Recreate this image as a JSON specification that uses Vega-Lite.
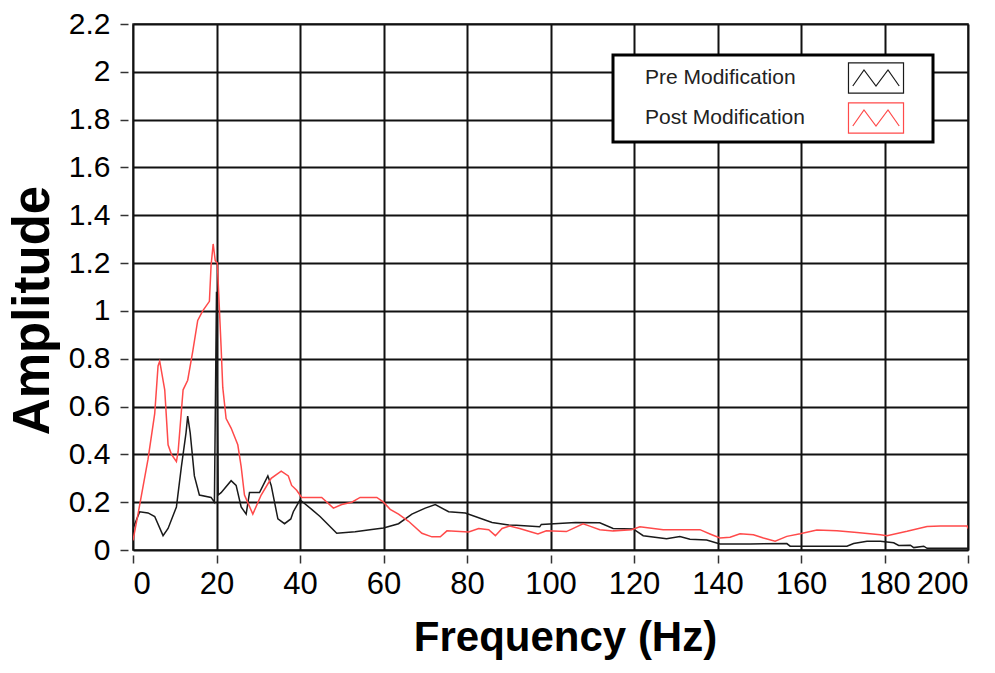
{
  "$schema": "https://vega.github.io/schema/vega-lite/v6.json",
  "autosize": "none",
  "width": 835,
  "height": 526,
  "padding": {"left": 133, "top": 24, "right": 27, "bottom": 123},
  "background": "white",
  "config": {
    "view": {"stroke": "#222", "strokeWidth": 1.5},
    "axis": {"gridColor": "#111", "gridWidth": 2, "gridOpacity": 1, "tickColor": "#333", "tickWidth": 1.5, "labelColor": "#000", "titleColor": "#000"}
  },
  "data": {"values": [
    {"f": 0, "a": 0.09, "s": "Pre Modification"},
    {"f": 1.6, "a": 0.16, "s": "Pre Modification"},
    {"f": 3.6, "a": 0.155, "s": "Pre Modification"},
    {"f": 5.2, "a": 0.14, "s": "Pre Modification"},
    {"f": 7.2, "a": 0.06, "s": "Pre Modification"},
    {"f": 8.4, "a": 0.09, "s": "Pre Modification"},
    {"f": 10.4, "a": 0.18, "s": "Pre Modification"},
    {"f": 11.6, "a": 0.35, "s": "Pre Modification"},
    {"f": 12.7, "a": 0.49, "s": "Pre Modification"},
    {"f": 13.1, "a": 0.56, "s": "Pre Modification"},
    {"f": 13.7, "a": 0.49, "s": "Pre Modification"},
    {"f": 14.7, "a": 0.31, "s": "Pre Modification"},
    {"f": 15.9, "a": 0.23, "s": "Pre Modification"},
    {"f": 18.7, "a": 0.22, "s": "Pre Modification"},
    {"f": 19.5, "a": 0.2, "s": "Pre Modification"},
    {"f": 20.0, "a": 1.08, "s": "Pre Modification"},
    {"f": 20.4, "a": 0.23, "s": "Pre Modification"},
    {"f": 21.1, "a": 0.24, "s": "Pre Modification"},
    {"f": 23.5, "a": 0.29, "s": "Pre Modification"},
    {"f": 24.7, "a": 0.27, "s": "Pre Modification"},
    {"f": 25.9, "a": 0.18, "s": "Pre Modification"},
    {"f": 27.1, "a": 0.15, "s": "Pre Modification"},
    {"f": 27.9, "a": 0.24, "s": "Pre Modification"},
    {"f": 30.3, "a": 0.24, "s": "Pre Modification"},
    {"f": 32.3, "a": 0.31, "s": "Pre Modification"},
    {"f": 33.1, "a": 0.27, "s": "Pre Modification"},
    {"f": 34.7, "a": 0.13, "s": "Pre Modification"},
    {"f": 36.3, "a": 0.11, "s": "Pre Modification"},
    {"f": 37.8, "a": 0.13, "s": "Pre Modification"},
    {"f": 38.4, "a": 0.16, "s": "Pre Modification"},
    {"f": 40, "a": 0.21, "s": "Pre Modification"},
    {"f": 42.8, "a": 0.17, "s": "Pre Modification"},
    {"f": 44.8, "a": 0.14, "s": "Pre Modification"},
    {"f": 48.8, "a": 0.07, "s": "Pre Modification"},
    {"f": 53.2, "a": 0.076, "s": "Pre Modification"},
    {"f": 57.2, "a": 0.086, "s": "Pre Modification"},
    {"f": 60, "a": 0.092, "s": "Pre Modification"},
    {"f": 63.6, "a": 0.11, "s": "Pre Modification"},
    {"f": 66.8, "a": 0.15, "s": "Pre Modification"},
    {"f": 70, "a": 0.175, "s": "Pre Modification"},
    {"f": 72.4, "a": 0.19, "s": "Pre Modification"},
    {"f": 75.6, "a": 0.16, "s": "Pre Modification"},
    {"f": 79.6, "a": 0.155, "s": "Pre Modification"},
    {"f": 86, "a": 0.115, "s": "Pre Modification"},
    {"f": 90, "a": 0.105, "s": "Pre Modification"},
    {"f": 91.8, "a": 0.104, "s": "Pre Modification"},
    {"f": 97.4, "a": 0.097, "s": "Pre Modification"},
    {"f": 97.8, "a": 0.107, "s": "Pre Modification"},
    {"f": 106, "a": 0.115, "s": "Pre Modification"},
    {"f": 111.8, "a": 0.114, "s": "Pre Modification"},
    {"f": 115, "a": 0.09, "s": "Pre Modification"},
    {"f": 119.8, "a": 0.088, "s": "Pre Modification"},
    {"f": 122.2, "a": 0.06, "s": "Pre Modification"},
    {"f": 127.8, "a": 0.047, "s": "Pre Modification"},
    {"f": 131, "a": 0.056, "s": "Pre Modification"},
    {"f": 133.4, "a": 0.045, "s": "Pre Modification"},
    {"f": 137.4, "a": 0.042, "s": "Pre Modification"},
    {"f": 140.6, "a": 0.025, "s": "Pre Modification"},
    {"f": 147.8, "a": 0.025, "s": "Pre Modification"},
    {"f": 156.6, "a": 0.027, "s": "Pre Modification"},
    {"f": 157.4, "a": 0.016, "s": "Pre Modification"},
    {"f": 171, "a": 0.016, "s": "Pre Modification"},
    {"f": 172.6, "a": 0.027, "s": "Pre Modification"},
    {"f": 175.8, "a": 0.037, "s": "Pre Modification"},
    {"f": 179, "a": 0.037, "s": "Pre Modification"},
    {"f": 182.2, "a": 0.03, "s": "Pre Modification"},
    {"f": 183.4, "a": 0.019, "s": "Pre Modification"},
    {"f": 186.2, "a": 0.02, "s": "Pre Modification"},
    {"f": 187, "a": 0.01, "s": "Pre Modification"},
    {"f": 189.4, "a": 0.016, "s": "Pre Modification"},
    {"f": 190.2, "a": 0.007, "s": "Pre Modification"},
    {"f": 200, "a": 0.007, "s": "Pre Modification"},

    {"f": 0, "a": 0.04, "s": "Post Modification"},
    {"f": 1.2, "a": 0.15, "s": "Post Modification"},
    {"f": 3.6, "a": 0.38, "s": "Post Modification"},
    {"f": 5.2, "a": 0.57, "s": "Post Modification"},
    {"f": 6, "a": 0.77, "s": "Post Modification"},
    {"f": 6.4, "a": 0.79, "s": "Post Modification"},
    {"f": 7.6, "a": 0.67, "s": "Post Modification"},
    {"f": 8.4, "a": 0.44, "s": "Post Modification"},
    {"f": 9.2, "a": 0.4, "s": "Post Modification"},
    {"f": 10.4, "a": 0.37, "s": "Post Modification"},
    {"f": 10.8, "a": 0.41, "s": "Post Modification"},
    {"f": 12, "a": 0.67, "s": "Post Modification"},
    {"f": 13.1, "a": 0.71, "s": "Post Modification"},
    {"f": 14.3, "a": 0.83, "s": "Post Modification"},
    {"f": 15.5, "a": 0.96, "s": "Post Modification"},
    {"f": 16.7, "a": 1.0, "s": "Post Modification"},
    {"f": 18.3, "a": 1.04, "s": "Post Modification"},
    {"f": 18.7, "a": 1.19, "s": "Post Modification"},
    {"f": 19.2, "a": 1.28, "s": "Post Modification"},
    {"f": 19.7, "a": 1.21, "s": "Post Modification"},
    {"f": 20.2, "a": 1.2, "s": "Post Modification"},
    {"f": 21.1, "a": 0.85, "s": "Post Modification"},
    {"f": 21.5, "a": 0.68, "s": "Post Modification"},
    {"f": 22.3, "a": 0.55, "s": "Post Modification"},
    {"f": 23.5, "a": 0.51, "s": "Post Modification"},
    {"f": 25.1, "a": 0.44, "s": "Post Modification"},
    {"f": 25.9, "a": 0.35, "s": "Post Modification"},
    {"f": 26.7, "a": 0.23, "s": "Post Modification"},
    {"f": 28.7, "a": 0.15, "s": "Post Modification"},
    {"f": 30.7, "a": 0.23, "s": "Post Modification"},
    {"f": 33.1, "a": 0.3, "s": "Post Modification"},
    {"f": 35.5, "a": 0.33, "s": "Post Modification"},
    {"f": 37.2, "a": 0.31, "s": "Post Modification"},
    {"f": 38, "a": 0.27, "s": "Post Modification"},
    {"f": 39.2, "a": 0.25, "s": "Post Modification"},
    {"f": 40.4, "a": 0.22, "s": "Post Modification"},
    {"f": 45.2, "a": 0.22, "s": "Post Modification"},
    {"f": 48, "a": 0.175, "s": "Post Modification"},
    {"f": 50, "a": 0.19, "s": "Post Modification"},
    {"f": 52.4, "a": 0.2, "s": "Post Modification"},
    {"f": 54.4, "a": 0.22, "s": "Post Modification"},
    {"f": 58.4, "a": 0.22, "s": "Post Modification"},
    {"f": 60, "a": 0.2, "s": "Post Modification"},
    {"f": 61.6, "a": 0.17, "s": "Post Modification"},
    {"f": 63.6, "a": 0.15, "s": "Post Modification"},
    {"f": 66, "a": 0.12, "s": "Post Modification"},
    {"f": 69.2, "a": 0.07, "s": "Post Modification"},
    {"f": 71.6, "a": 0.055, "s": "Post Modification"},
    {"f": 73.6, "a": 0.055, "s": "Post Modification"},
    {"f": 75.2, "a": 0.08, "s": "Post Modification"},
    {"f": 80.4, "a": 0.075, "s": "Post Modification"},
    {"f": 82.8, "a": 0.09, "s": "Post Modification"},
    {"f": 85.2, "a": 0.085, "s": "Post Modification"},
    {"f": 86.8, "a": 0.06, "s": "Post Modification"},
    {"f": 88.4, "a": 0.09, "s": "Post Modification"},
    {"f": 90.2, "a": 0.1, "s": "Post Modification"},
    {"f": 92.6, "a": 0.09, "s": "Post Modification"},
    {"f": 95, "a": 0.077, "s": "Post Modification"},
    {"f": 97, "a": 0.067, "s": "Post Modification"},
    {"f": 99, "a": 0.08, "s": "Post Modification"},
    {"f": 103.8, "a": 0.077, "s": "Post Modification"},
    {"f": 107.8, "a": 0.11, "s": "Post Modification"},
    {"f": 109.4, "a": 0.1, "s": "Post Modification"},
    {"f": 111.8, "a": 0.085, "s": "Post Modification"},
    {"f": 115, "a": 0.08, "s": "Post Modification"},
    {"f": 119.4, "a": 0.085, "s": "Post Modification"},
    {"f": 121.4, "a": 0.097, "s": "Post Modification"},
    {"f": 127, "a": 0.085, "s": "Post Modification"},
    {"f": 135.8, "a": 0.085, "s": "Post Modification"},
    {"f": 138.2, "a": 0.067, "s": "Post Modification"},
    {"f": 140.6, "a": 0.05, "s": "Post Modification"},
    {"f": 143, "a": 0.053, "s": "Post Modification"},
    {"f": 145.4, "a": 0.068, "s": "Post Modification"},
    {"f": 148.6, "a": 0.064, "s": "Post Modification"},
    {"f": 151, "a": 0.05, "s": "Post Modification"},
    {"f": 153.8, "a": 0.037, "s": "Post Modification"},
    {"f": 156.6, "a": 0.057, "s": "Post Modification"},
    {"f": 159.8, "a": 0.068, "s": "Post Modification"},
    {"f": 163.8, "a": 0.084, "s": "Post Modification"},
    {"f": 168.6, "a": 0.08, "s": "Post Modification"},
    {"f": 173.4, "a": 0.073, "s": "Post Modification"},
    {"f": 179, "a": 0.064, "s": "Post Modification"},
    {"f": 180.6, "a": 0.06, "s": "Post Modification"},
    {"f": 185.4, "a": 0.078, "s": "Post Modification"},
    {"f": 190.2, "a": 0.098, "s": "Post Modification"},
    {"f": 193.4, "a": 0.1, "s": "Post Modification"},
    {"f": 199.8, "a": 0.1, "s": "Post Modification"},
    {"f": 200, "a": 0.09, "s": "Post Modification"}
  ]},
  "mark": {"type": "line", "strokeWidth": 1.5, "clip": true},
  "encoding": {
    "x": {
      "field": "f", "type": "quantitative",
      "scale": {"domain": [0, 200], "nice": false, "zero": false},
      "axis": {
        "title": "Frequency (Hz)",
        "values": [0, 20, 40, 60, 80, 100, 120, 140, 160, 180, 200],
        "domain": false, "offset": 5, "tickSize": 8,
        "labelFont": "Liberation Sans", "labelFontSize": 31, "labelPadding": 6,
        "titleFont": "Liberation Sans", "titleFontWeight": "bold", "titleFontSize": 42, "titlePadding": 18,
        "titleX": 432, "titleAlign": "center"
      }
    },
    "y": {
      "field": "a", "type": "quantitative",
      "scale": {"domain": [0, 2.2], "nice": false},
      "axis": {
        "title": "Amplitude",
        "values": [0, 0.2, 0.4, 0.6, 0.8, 1, 1.2, 1.4, 1.6, 1.8, 2, 2.2],
        "format": "~g",
        "domain": false, "offset": 5, "tickSize": 8,
        "labelFont": "Liberation Sans", "labelFontSize": 30, "labelPadding": 10,
        "titleFont": "Liberation Sans", "titleFontWeight": "bold", "titleFontSize": 51, "titlePadding": 9,
        "titleY": 286, "titleAlign": "center"
      }
    },
    "color": {
      "field": "s", "type": "nominal",
      "scale": {"domain": ["Pre Modification", "Post Modification"], "range": ["#1a1a1a", "#ff4a4a"]},
      "legend": {
        "title": null,
        "orient": "none", "legendX": 480, "legendY": 31,
        "fillColor": "white", "strokeColor": "#000", "padding": 6,
        "symbolType": "M-1.72,-0.94H1.72V0.94H-1.72Z M-1.45,0.5L-0.75,-0.5L0,0.5L0.75,-0.5L1.45,0.5 M3,0L3,0",
        "symbolSize": 1024, "symbolStrokeWidth": 1.2, "symbolFillColor": "transparent",
        "symbolOffset": 240, "labelOffset": -248, "rowPadding": 4, "labelLimit": 400,
        "labelFont": "Liberation Sans", "labelFontSize": 21, "labelColor": "#222",
        "encode": {"legend": {"update": {"strokeWidth": {"value": 3}}}}
      }
    }
  }
}
